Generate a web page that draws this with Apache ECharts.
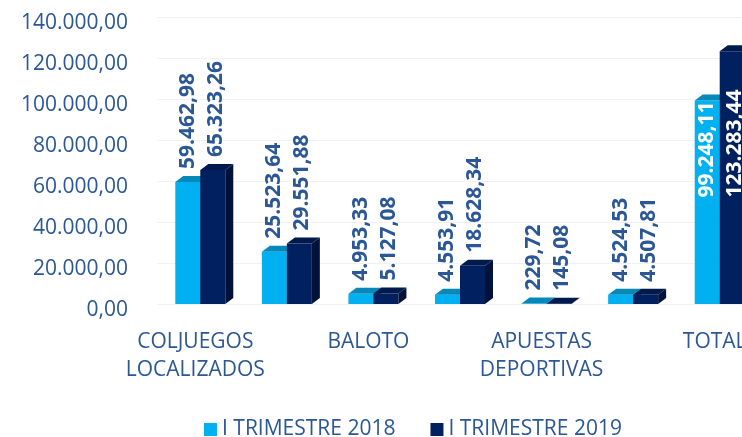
<!DOCTYPE html>
<html>
<head>
<meta charset="utf-8">
<script src="https://cdn.jsdelivr.net/npm/echarts@6/dist/echarts.min.js"></script>
<style>
  html, body { margin: 0; padding: 0; background: #fff; overflow: hidden; }
  /* the plot runs past the right edge of the picture, as in the original */
  #chart { width: 763px; height: 437px; }
</style>
</head>
<body>
<div id="chart"></div>
<script>
const categories = [
  'COLJUEGOS\nLOCALIZADOS',
  'SUPER ASTRO',
  'BALOTO',
  'JUEGOS POR\nINTERNET',
  'APUESTAS\nDEPORTIVAS',
  'RIFAS',
  'TOTAL'
]
const seriesNames = ['I TRIMESTRE 2018', 'I TRIMESTRE 2019']
const values2018 = [59462.98, 25523.64, 4953.33, 4553.91, 229.72, 4524.53, 99248.11]
const values2019 = [65323.26, 29551.88, 5127.08, 18628.34, 145.08, 4507.81, 123283.44]
const yTicks = [0, 20000, 40000, 60000, 80000, 100000, 120000, 140000]

const TEXT = '#2b5797'
const FONT = '"Open Sans", "Noto Sans", sans-serif'
const BAR_W = 25
const DX = 8
const DY = 6

// front, top face, side face
const palette = [
  { front: '#00b0f0', top: '#0589ba', side: '#0076a3' },
  { front: '#002060', top: '#011a4d', side: '#00123a' }
]

function fmt(v) {
  const [i, d] = v.toFixed(2).split('.')
  return i.replace(/\B(?=(\d{3})+(?!\d))/g, '.') + ',' + d
}

function barRenderer(idx) {
  const c = palette[idx]
  return function (params, api) {
    const cat = api.value(0)
    const val = api.value(1)
    const base = api.coord([cat, 0])
    const top = api.coord([cat, val])
    const x0 = base[0] + (idx === 0 ? -BAR_W : 0)
    const x1 = x0 + BAR_W
    const yT = top[1]
    const yB = base[1]
    const children = [
      { type: 'rect', shape: { x: x0, y: yT, width: BAR_W, height: yB - yT }, style: { fill: c.front } },
      { type: 'polygon', shape: { points: [[x0, yT], [x0 + DX, yT - DY], [x1 + DX, yT - DY], [x1, yT]] }, style: { fill: c.top } },
      { type: 'polygon', shape: { points: [[x1, yT], [x1 + DX, yT - DY], [x1 + DX, yB - DY], [x1, yB]] }, style: { fill: c.side } }
    ]
    // labels go inside the bar when there is no room above it
    const inside = yT < 130
    let ly, fill
    if (inside) {
      const lightTop = api.coord([cat, values2018[cat]])[1]
      ly = lightTop + 97
      fill = '#ffffff'
    } else {
      ly = yT - 13
      fill = TEXT
    }
    children.push({
      type: 'text',
      x: x0 + BAR_W / 2 + (idx === 0 ? 0 : 3),
      y: ly,
      rotation: Math.PI / 2,
      style: {
        text: fmt(val),
        fill: fill,
        font: 'bold 21px ' + FONT,
        align: 'left',
        verticalAlign: 'middle'
      }
    })
    return { type: 'group', children: children }
  }
}

const chart = echarts.init(document.getElementById('chart'))
chart.setOption({
  animation: false,
  grid: { left: 157, right: 0, top: 17, bottom: 133 },
  legend: {
    data: seriesNames,
    left: 199,
    top: 414,
    icon: 'rect',
    itemWidth: 13,
    itemHeight: 13,
    itemGap: 35,
    textStyle: { color: TEXT, fontSize: 21, fontFamily: FONT, lineHeight: 20 }
  },
  xAxis: {
    type: 'category',
    data: categories,
    axisLine: { show: false },
    axisTick: { show: false },
    axisLabel: {
      interval: 1,
      color: TEXT,
      fontSize: 21,
      fontFamily: FONT,
      lineHeight: 28,
      margin: 24,
      padding: [0, 10, 0, 0]
    }
  },
  yAxis: {
    type: 'value',
    min: yTicks[0],
    max: yTicks[yTicks.length - 1],
    interval: yTicks[1] - yTicks[0],
    axisLine: { show: false },
    axisTick: { show: false },
    splitLine: { lineStyle: { color: '#f2f2f2' } },
    axisLabel: {
      color: TEXT,
      fontSize: 21,
      fontFamily: FONT,
      margin: 29,
      verticalAlign: 'top',
      lineHeight: 12,
      formatter: fmt
    }
  },
  series: [values2018, values2019].map((vals, idx) => ({
    name: seriesNames[idx],
    type: 'custom',
    itemStyle: { color: palette[idx].front },
    renderItem: barRenderer(idx),
    encode: { x: 0, y: 1 },
    data: vals.map((v, i) => [i, v])
  }))
})
</script>
</body>
</html>
